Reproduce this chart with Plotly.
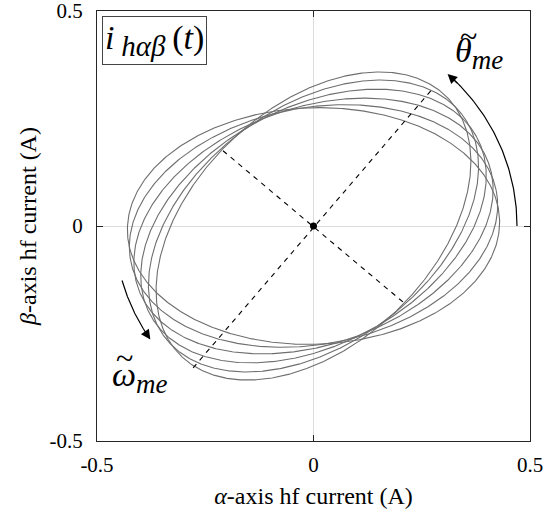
import numpy as np
import plotly.graph_objects as go

# HF current locus: one ellipse per carrier period, same shape, rotating axis
semi_major = [0.43, 0.43, 0.43, 0.43, 0.43, 0.43]
semi_minor = [0.275, 0.275, 0.275, 0.275, 0.275, 0.275]
tilt_deg = [2, 11, 20, 29, 37, 44]

# estimated d/q directions (dashed), endpoints in A
major_x = [-0.278, 0.274]
major_y = [-0.330, 0.318]
minor_x = [-0.209, 0.207]
minor_y = [0.175, -0.177]

# rotation arrows: radius (A), start/end angle (deg)
theta_arc = [0.47, 0.0, 48.8]
omega_arc = [0.46, 196.0, 215.0]

SERIF = "Liberation Serif, Times New Roman, DejaVu Serif, serif"
AX_COL = "#262626"
CURVE_COL = "#6e6e6e"

fig = go.Figure()

t = np.linspace(0, 2 * np.pi, 721)
for a, b, ang in zip(semi_major, semi_minor, tilt_deg):
    p = np.deg2rad(ang)
    xs = a * np.cos(t) * np.cos(p) - b * np.sin(t) * np.sin(p)
    ys = a * np.cos(t) * np.sin(p) + b * np.sin(t) * np.cos(p)
    fig.add_trace(go.Scatter(x=xs, y=ys, mode="lines",
                             line=dict(color=CURVE_COL, width=1.1),
                             hoverinfo="skip", showlegend=False))

for xs, ys in ((major_x, major_y), (minor_x, minor_y)):
    fig.add_trace(go.Scatter(x=xs, y=ys, mode="lines",
                             line=dict(color="black", width=1.1, dash="5px,5px"),
                             hoverinfo="skip", showlegend=False))

fig.add_trace(go.Scatter(x=[0], y=[0], mode="markers",
                         marker=dict(color="black", size=7),
                         hoverinfo="skip", showlegend=False))


def arc_arrow(r, a0, a1):
    ang = np.deg2rad(np.linspace(a0, a1, 80))
    xs, ys = r * np.cos(ang), r * np.sin(ang)
    fig.add_trace(go.Scatter(x=xs[:-3], y=ys[:-3], mode="lines",
                             line=dict(color="black", width=1.2),
                             hoverinfo="skip", showlegend=False))
    fig.add_annotation(x=xs[-1], y=ys[-1], ax=xs[-8], ay=ys[-8],
                       xref="x", yref="y", axref="x", ayref="y",
                       text="", showarrow=True, arrowhead=2,
                       arrowsize=1.6, arrowwidth=1.2, arrowcolor="black")


arc_arrow(*theta_arc)
arc_arrow(*omega_arc)


def tilde_label(symbol, x_left, y_mid, x_tilde, y_tilde):
    fig.add_annotation(x=x_left, y=y_mid, xref="x", yref="y", showarrow=False,
                       xanchor="left", yanchor="middle",
                       text=(f"<i>{symbol}</i><sub><span style='font-size:27px'>"
                             f"<i>me</i></span></sub>"),
                       font=dict(family=SERIF, size=34, color="black"))
    fig.add_annotation(x=x_tilde, y=y_tilde, xref="x", yref="y",
                       showarrow=False, text="~",
                       font=dict(family=SERIF, size=32, color="black"))


tilde_label("θ", 0.323, 0.402, 0.357, 0.443)
tilde_label("ω", -0.470, -0.352, -0.436, -0.308)

fig.add_annotation(x=-0.489, y=0.489, xref="x", yref="y", showarrow=False,
                   xanchor="left", yanchor="top",
                   text=("<i>i</i>\u2009<sub><span style='font-size:29px'>"
                         "<i>hαβ</i></span></sub>\u2009(<i>t</i>)"),
                   font=dict(family=SERIF, size=34, color="black"),
                   bordercolor="#444444", borderwidth=1, borderpad=2,
                   bgcolor="white")

axis_common = dict(
    range=[-0.5, 0.5], tickvals=[-0.5, 0, 0.5],
    ticktext=["-0.5", "0", "0.5"],
    ticks="inside", ticklen=6, tickcolor=AX_COL, tickwidth=1,
    showline=True, linecolor=AX_COL, linewidth=1.3, mirror="ticks",
    showgrid=False, zeroline=True, zerolinecolor="#dcdcdc", zerolinewidth=1,
    tickfont=dict(family=SERIF, size=21, color="black"),
    ticklabeloverflow="allow", automargin=False,
)

fig.update_layout(
    width=544, height=519,
    margin=dict(l=97, r=14, t=11, b=78),
    paper_bgcolor="white", plot_bgcolor="white",
    xaxis=dict(**axis_common, ticklabelstandoff=5,
               title=dict(text="<i>α</i>-axis hf current (A)",
                          font=dict(family=SERIF, size=24, color="black"),
                          standoff=10)),
    yaxis=dict(**axis_common, ticklabelstandoff=9,
               title=dict(text="<i>β</i>-axis hf current (A)",
                          font=dict(family=SERIF, size=24, color="black"),
                          standoff=6)),
    showlegend=False,
)

fig.write_html("out.html")
